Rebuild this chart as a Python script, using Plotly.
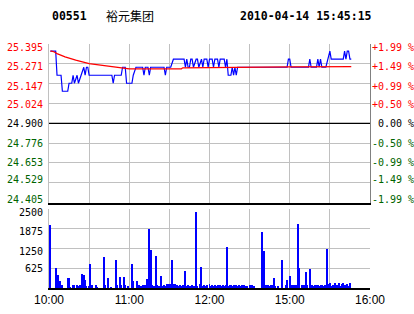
import plotly.graph_objects as go

# ---- data ----
price_minutes = [1, 5, 6, 9, 10, 14, 15, 17, 18, 19, 21, 22, 24, 26, 27, 28, 29, 30, 47, 48, 49, 54, 55, 57, 58,
                 62, 63, 65, 70, 71, 72, 74, 75, 76, 86, 87, 88, 91, 93, 101, 102, 103, 104, 105, 106, 107, 108,
                 110, 111, 112, 114, 115, 116, 118, 119, 120, 122, 123, 124, 126, 127, 128, 129, 131, 132, 133,
                 134, 136, 137, 138, 139, 140, 141, 178, 179, 180, 181, 194, 195, 196, 200, 201, 202, 203, 204,
                 207, 210, 211, 220, 221, 222, 223, 224, 225, 226]
price_values = [25.35, 25.35, 25.20, 25.20, 25.10, 25.10, 25.15, 25.15, 25.20, 25.15, 25.20, 25.15, 25.20, 25.25,
                25.20, 25.25, 25.25, 25.20, 25.20, 25.15, 25.20, 25.20, 25.25, 25.25, 25.15,
                25.15, 25.20, 25.25, 25.25, 25.20, 25.25, 25.25, 25.20, 25.25, 25.25, 25.20, 25.25, 25.25, 25.30,
                25.30, 25.25, 25.30, 25.25, 25.25, 25.30, 25.30, 25.25,
                25.30, 25.30, 25.25, 25.30, 25.25, 25.30, 25.30, 25.25, 25.30, 25.30, 25.25, 25.30, 25.30, 25.25,
                25.30, 25.30, 25.30, 25.25, 25.30,
                25.20, 25.20, 25.25, 25.20, 25.25, 25.20, 25.25, 25.25, 25.30, 25.30, 25.25, 25.25, 25.30, 25.25,
                25.25, 25.30, 25.25, 25.30, 25.25,
                25.25, 25.35, 25.30, 25.30, 25.35, 25.30, 25.35, 25.35, 25.30, 25.30]

avg_minutes = [1, 2, 4, 6, 12, 20, 30, 40, 47, 55, 60, 80, 99, 100, 130, 180, 226]
avg_values = [25.35, 25.35, 25.345, 25.335, 25.315, 25.294, 25.273, 25.262, 25.253, 25.243, 25.240, 25.240,
              25.240, 25.246, 25.250, 25.252, 25.254]

volume = [0, 2000, 0, 0, 0, 630, 100, 420, 230, 100, 100, 0, 0, 0, 320, 320, 40, 0, 100, 100,
          0, 100, 60, 100, 0, 450, 420, 240, 60, 0, 60, 770, 90, 0, 0, 90, 40, 0, 0, 0,
          0, 990, 90, 0, 320, 0, 40, 0, 0, 0, 895, 80, 0, 350, 80, 0, 350, 80, 0, 50,
          0, 0, 770, 210, 0, 0, 230, 100, 0, 60, 90, 60, 80, 290, 60, 1875, 1210, 100, 60, 60,
          1020, 100, 60, 0, 390, 60, 80, 60, 120, 0, 130, 130, 895, 130, 130, 60, 80, 50, 80, 60,
          80, 60, 550, 60, 80, 50, 60, 80, 60, 50, 2410, 50, 0, 130, 665, 60, 80, 60, 80, 0,
          120, 60, 100, 60, 80, 50, 100, 60, 80, 60, 100, 60, 80, 1305, 60, 100, 80, 60, 100, 60,
          80, 60, 100, 60, 80, 60, 80, 60, 60, 0, 80, 60, 100, 60, 0, 0, 0, 0, 0, 1780,
          100, 1180, 100, 80, 100, 60, 80, 100, 330, 60, 0, 60, 0, 0, 895, 0, 0, 80, 260, 0,
          390, 60, 100, 80, 60, 100, 2035, 640, 0, 80, 50, 80, 500, 80, 0, 610, 100, 100, 60, 100,
          80, 100, 60, 100, 100, 60, 100, 80, 1240, 130, 170, 60, 80, 100, 150, 80, 100, 150, 60, 130,
          150, 100, 80, 130, 60, 160, 0]
volume_minutes = list(range(len(volume)))

time_tickvals = [0, 30, 60, 90, 120, 150, 180, 210, 240]
time_ticktext = ["10:00", "", "11:00", "", "12:00", "", "15:00", "", "16:00"]

price_ticks = [24.405, 24.529, 24.653, 24.776, 24.900, 25.024, 25.147, 25.271, 25.395]
price_ticklabels = ["24.405", "24.529", "24.653", "24.776", "24.900", "25.024", "25.147", "25.271", "25.395"]
pct_ticklabels = ["-1.99 %", "-1.49 %", "-0.99 %", "-0.50 %", "\u00a00.00 %", "+0.50 %", "+0.99 %", "+1.49 %", "+1.99 %"]
vol_ticks = [625, 1250, 1875, 2500]
vol_ticklabels = ["625", "1250", "1875", "2500"]

prev_close = 24.900
stock_code = "00551"
stock_name = "裕元集团"
stamp = "2010-04-14 15:45:15"

# ---- style ----
RED = "#FF0000"
GREEN = "#006400"
BLACK = "#000000"
GRID = "#C0C0C0"
MONO = "DejaVu Sans Mono"
price_label_yshift = [3, 3, 0.5, 0, 0, -1, -2.5, -2.5, -3.5]
vol_label_yshift = [-0.7, -2.7, -2.4, -4]


def tick_color(v):
    if v > prev_close + 1e-9:
        return RED
    if v < prev_close - 1e-9:
        return GREEN
    return BLACK


fig = go.Figure()
fig.add_trace(go.Scatter(x=price_minutes, y=price_values, mode="lines",
                         line=dict(color="#0000FF", width=1.2), xaxis="x", yaxis="y", hoverinfo="skip"))
fig.add_trace(go.Scatter(x=avg_minutes, y=avg_values, mode="lines",
                         line=dict(color=RED, width=1.2), xaxis="x", yaxis="y3", hoverinfo="skip"))
fig.add_trace(go.Bar(x=volume_minutes, y=volume, width=0.75, marker=dict(color="#0000FF", line=dict(width=0)),
                     xaxis="x2", yaxis="y2", hoverinfo="skip"))

xr = [0, 240]
pr = [price_ticks[0], price_ticks[-1]]

annotations = [
    dict(text=f"<b>{stock_code}</b>", xref="paper", yref="paper", x=0.003, y=1.115,
         xanchor="left", yanchor="middle", showarrow=False,
         font=dict(family=MONO, size=11.5, color=BLACK)),
    dict(text=stock_name, xref="paper", yref="paper", x=0.172, y=1.118,
         xanchor="left", yanchor="middle", showarrow=False,
         font=dict(family="Noto Sans CJK SC", size=12, color=BLACK)),
    dict(text=f"<b>{stamp}</b>", xref="paper", yref="paper", x=0.588, y=1.115,
         xanchor="left", yanchor="middle", showarrow=False,
         font=dict(family=MONO, size=11.5, color=BLACK)),
]
for v, lab, pl, ys in zip(price_ticks, price_ticklabels, pct_ticklabels, price_label_yshift):
    c = tick_color(v)
    annotations.append(dict(text=lab, xref="paper", yref="y", x=0, y=v, xanchor="right", yanchor="middle",
                            xshift=-4, yshift=ys, showarrow=False,
                            font=dict(family=MONO, size=10, color=c)))
    annotations.append(dict(text=pl, xref="paper", yref="y", x=1, y=v, xanchor="left", yanchor="middle",
                            xshift=0, yshift=ys, showarrow=False,
                            font=dict(family=MONO, size=10, color=c)))
for v, lab, ys in zip(vol_ticks, vol_ticklabels, vol_label_yshift):
    annotations.append(dict(text=lab, xref="paper", yref="y2", x=0, y=v, xanchor="right", yanchor="middle",
                            xshift=-4, yshift=ys, showarrow=False,
                            font=dict(family=MONO, size=10, color=BLACK)))

fig.update_layout(
    width=414, height=314,
    margin=dict(l=49, r=44, t=44, b=26, autoexpand=False),
    paper_bgcolor="white", plot_bgcolor="white",
    showlegend=False, bargap=0,
    xaxis=dict(domain=[0, 1], anchor="y", range=xr, tickvals=time_tickvals, showticklabels=False,
               showgrid=True, gridcolor=GRID, gridwidth=1, zeroline=False, automargin=False,
               showline=True, linecolor=BLACK, linewidth=1.5, ticks=""),
    yaxis=dict(domain=[0.35, 1.0], anchor="x", range=pr, tickvals=price_ticks, showticklabels=False,
               showgrid=True, gridcolor=GRID, gridwidth=1, zeroline=False, automargin=False,
               showline=True, linecolor=GRID, linewidth=1, ticks=""),
    yaxis3=dict(overlaying="y", side="right", anchor="x", range=pr, showticklabels=False,
                showgrid=False, zeroline=False, showline=True, linecolor="#808080", linewidth=1,
                ticks="", automargin=False),
    xaxis2=dict(domain=[0, 1], anchor="y2", range=xr, tickvals=time_tickvals, ticktext=time_ticktext,
                tickfont=dict(family="Liberation Sans", size=12, color=BLACK),
                showgrid=True, gridcolor=GRID, gridwidth=1, zeroline=False, automargin=False,
                showline=True, linecolor=BLACK, linewidth=1.5, ticks=""),
    yaxis2=dict(domain=[0, 0.3238], anchor="x2", range=[0, 2500], tickvals=vol_ticks, showticklabels=False,
                showgrid=True, gridcolor=GRID, gridwidth=1, zeroline=False, automargin=False,
                showline=True, linecolor=GRID, linewidth=1, ticks=""),
    shapes=[dict(type="line", xref="paper", yref="y", x0=0, x1=1, y0=prev_close, y1=prev_close,
                 line=dict(color=BLACK, width=1.2))],
    annotations=annotations,
    hovermode=False,
)

fig.write_html("out.html")
